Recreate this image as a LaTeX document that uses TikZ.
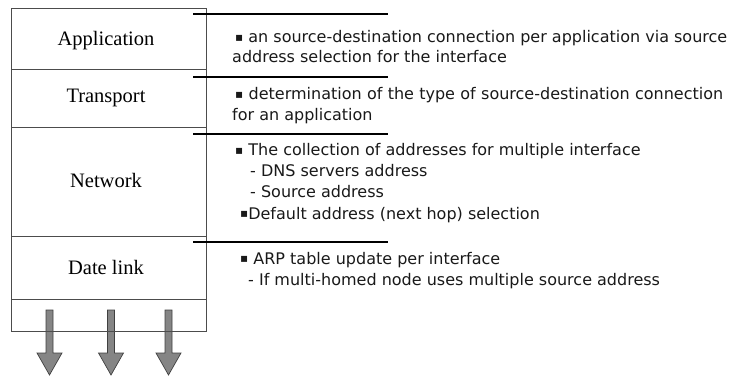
\documentclass[tikz,border=0pt]{standalone}
\usepackage{fontspec}
\setmainfont{Liberation Serif}
\newfontfamily\notefont{DejaVu Sans}
% small square bullet used in the notes, lifted to mid x-height
\newcommand{\sqbul}{\raisebox{1.8pt}{\fontsize{12}{12}\selectfont ▪}}
\begin{document}
\begin{tikzpicture}[x=1pt,y=-1pt,
  layer/.style={font=\fontsize{20.5}{24}\selectfont, anchor=base, inner sep=0pt},
  note/.style={font=\notefont\fontsize{16}{20}\selectfont, anchor=base west, inner sep=0pt, text=black!90},
  tick/.style={line width=1.3pt, black},
  frame/.style={draw=black!70, line width=0.9pt},
  arrowbody/.style={fill=black!48, draw=black!75, line width=0.7pt},
  downarr/.pic={\filldraw[arrowbody] (-3.5,0) -- (3.5,0) -- (3.5,43) -- (12.5,43)
      -- (0,65) -- (-12.5,43) -- (-3.5,43) -- cycle;}]
\useasboundingbox (0,0) rectangle (729,377);

% outgoing traffic below the stack
\pic at (49.5,310) {downarr};
\pic at (111,310) {downarr};
\pic at (168.5,310) {downarr};

% protocol stack
\draw[frame] (11,8) rectangle (206,331);
\foreach \yy in {69,127,236,299} \draw[frame] (11,\yy) -- (206,\yy);

\node[layer] (app) at (106,46) {Application};
\node[layer] (tra) at (106,103) {Transport};
\node[layer] (net) at (106,188) {Network};
\node[layer] (dl)  at (106,274) {Date link};

% separators for the notes
\foreach \yy in {14,77,134,242} \draw[tick] (193,\yy) -- (388,\yy);

% notes per layer
\node[note] (a1) at (235,43) {\makebox[492pt][s]{\sqbul{} an source-destination connection per application via source}};
\node[note] (a2) at (232,63) {address selection for the interface};

\node[note] (t1) at (235,100) {\makebox[488pt][s]{\sqbul{} determination of the type of source-destination connection}};
\node[note] (t2) at (232,121) {for an application};

\node[note] (n1) at (235,156) {\sqbul{} The collection of addresses for multiple interface};
\node[note] (n2) at (250,177) {- DNS servers address};
\node[note] (n3) at (250,198) {- Source address};
\node[note] (n4) at (240,219) {\sqbul{}Default address (next hop) selection};

\node[note] (d1) at (240,264) {\sqbul{} ARP table update per interface};
\node[note] (d2) at (248,285) {- If multi-homed node uses multiple source address};
\end{tikzpicture}
\end{document}
